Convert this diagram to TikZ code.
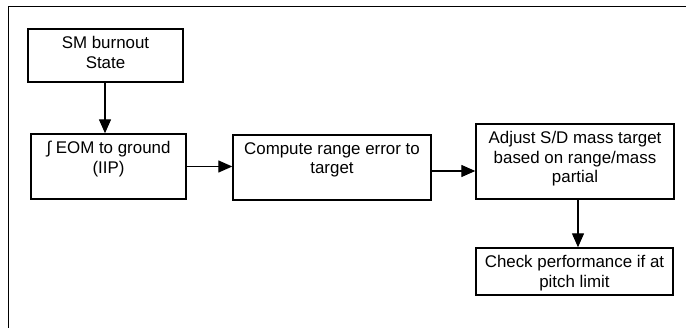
\documentclass[tikz,border=0pt]{standalone}
\usepackage{fontspec}
\setmainfont{Liberation Sans}
\usetikzlibrary{arrows.meta,calc}
\newcommand{\boxtext}[3]{\parbox[c][#2pt][t]{#1pt}{\centering\vspace*{7.5pt}#3}}
\tikzset{
  blk/.style={draw, line width=1.4pt, inner sep=0pt, align=center},
  arr/.style={line width=1.3pt, -{Triangle[length=14pt,width=12pt]}},
  frame/.style={line width=1.8pt}
}
\begin{document}
\begin{tikzpicture}[x=1pt,y=-1pt,font=\fontsize{16.9}{19.5}\selectfont]
\useasboundingbox (0,0) rectangle (686,328);
\fill[white] (0,0) rectangle (686,328);
\coordinate (ftr) at (690,6.5);
\coordinate (ftl) at (8.5,6.5);
\coordinate (fbl) at (8.5,332);
\draw[frame] (ftr) -- (ftl) -- (fbl);
\node[blk, minimum width=155pt, minimum height=53pt] (b1) at (105.5,55.5)
  {\boxtext{155}{53}{SM burnout\\State}};
\node[blk, minimum width=155pt, minimum height=65pt] (b2) at (108.5,166.5)
  {\boxtext{155}{65}{∫ EOM to ground\\(IIP)}};
\node[blk, minimum width=198pt, minimum height=65pt] (b3) at (332,167.5)
  {\boxtext{198}{65}{Compute range error to\\target}};
\node[blk, minimum width=198pt, minimum height=75pt] (b4) at (575,161.5)
  {\boxtext{198}{75}{Adjust S/D mass target\\based on range/mass\\partial}};
\node[blk, minimum width=197pt, minimum height=47pt] (b5) at (574.5,271.5)
  {\boxtext{197}{47}{Check performance if at\\pitch limit}};
\draw[arr] ([xshift=-0.5pt]b1.south) coordinate (a1) -- (a1 |- b2.north);
\draw[arr] (b2.east) -- (b2.east -| b3.west);
\draw[arr] ([yshift=-3.5pt]b3.east) coordinate (a3) -- (a3 -| b4.west);
\draw[arr] ([xshift=3pt]b4.south) coordinate (a4) -- (a4 |- b5.north);
\end{tikzpicture}
\end{document}
